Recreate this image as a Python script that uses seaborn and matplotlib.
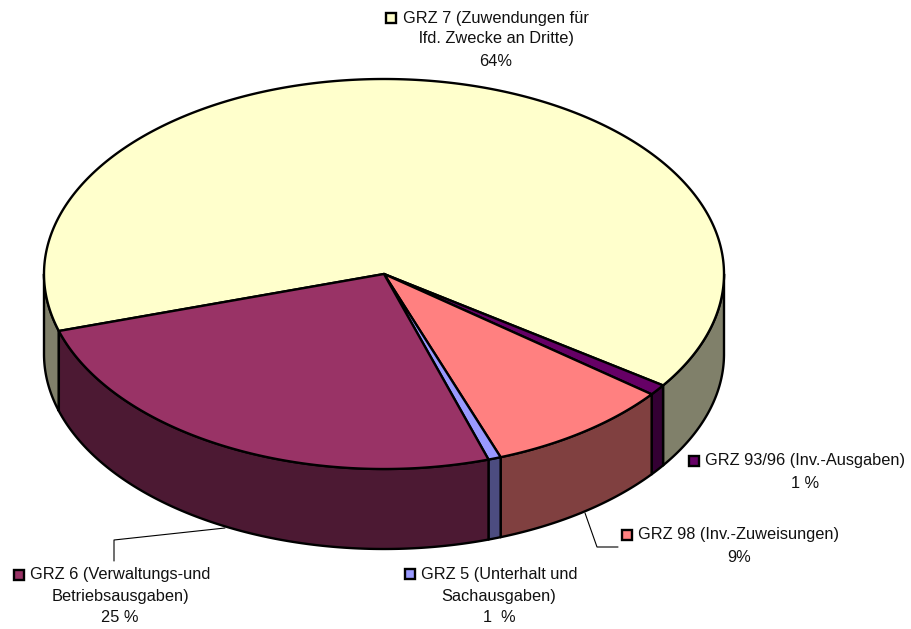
import numpy as np
import matplotlib
matplotlib.use('Agg')
import matplotlib.pyplot as plt
import seaborn as sns

# Daten
categories = ['GRZ 7', 'GRZ 93/96', 'GRZ 98', 'GRZ 5', 'GRZ 6']
shares = [64.4, 0.9, 8.85, 0.6, 25.25]
label_lines = [
    ['GRZ 7 (Zuwendungen für', 'lfd. Zwecke an Dritte)', '64%'],
    ['GRZ 93/96 (Inv.-Ausgaben)', '1 %'],
    ['GRZ 98 (Inv.-Zuweisungen)', '9%'],
    ['GRZ 5 (Unterhalt und', 'Sachausgaben)', '1  %'],
    ['GRZ 6 (Verwaltungs-und', 'Betriebsausgaben)', '25 %'],
]

top_colors = sns.color_palette(['#FFFFCC', '#660066', '#FF8080', '#9999FF', '#993366'])
side_colors = sns.color_palette(['#80806A', '#330033', '#804040', '#4C4C80', '#4C1933'])

# Layout in Pixeln
cx, cy = 384, 274
rx, ry = 340, 195
depth = 80
start_angle = 253
label_x = [496, 805, 739, 499, 120]
label_y = [[18, 39, 61], [461, 483], [535, 557], [574, 597, 618], [574, 596, 618]]
box_xy = [(386, 13), (689, 456), (622, 530), (405, 569), (14, 570)]
leaders = {2: ([585, 597, 618], [513, 547, 547]),
           4: ([225, 114, 114], [528, 540, 561])}

sns.set_style('white')
plt.rcParams['font.family'] = ['Liberation Sans', 'DejaVu Sans']

fig = plt.figure(figsize=(9.12, 6.29), dpi=100)
ax = fig.add_axes([0, 0, 1, 1])
ax.set_xlim(0, 912)
ax.set_ylim(629, 0)
ax.axis('off')


def arc(a, b, dy=0):
    t = np.radians(np.linspace(a, b, max(int(abs(b - a) * 2), 2)))
    return cx + rx * np.sin(t), cy + dy - ry * np.cos(t)


edges = start_angle + np.concatenate([[0], np.cumsum(shares)]) * 3.6

# Seitenwände, nur die vordere Hälfte ist sichtbar
for i in range(len(shares)):
    for lo, hi in [(90, 270), (450, 630)]:
        a, b = max(edges[i], lo), min(edges[i + 1], hi)
        if a >= b:
            continue
        x1, y1 = arc(a, b)
        x2, y2 = arc(a, b, depth)
        ax.fill(np.r_[x1, x2[::-1]], np.r_[y1, y2[::-1]], facecolor=side_colors[i],
                edgecolor='black', linewidth=1.7, joinstyle='round', zorder=2)

# Deckfläche
for i in range(len(shares)):
    x, y = arc(edges[i], edges[i + 1])
    ax.fill(np.r_[cx, x], np.r_[cy, y], facecolor=top_colors[i],
            edgecolor='black', linewidth=1.7, joinstyle='round', zorder=3)

# Führungslinien
for i, (lx, ly) in leaders.items():
    ax.plot(lx, ly, color='black', linewidth=0.8, zorder=1)

# Beschriftung
for i, lines in enumerate(label_lines):
    for line, ty in zip(lines, label_y[i]):
        ax.text(label_x[i], ty, line, ha='center', va='center', fontsize=11.8, color='#111111')
    bx, by = box_xy[i]
    ax.add_patch(plt.Rectangle((bx, by), 10, 10, facecolor=top_colors[i],
                               edgecolor='black', linewidth=1.7, zorder=4))

fig.savefig('out.png', dpi=100)
